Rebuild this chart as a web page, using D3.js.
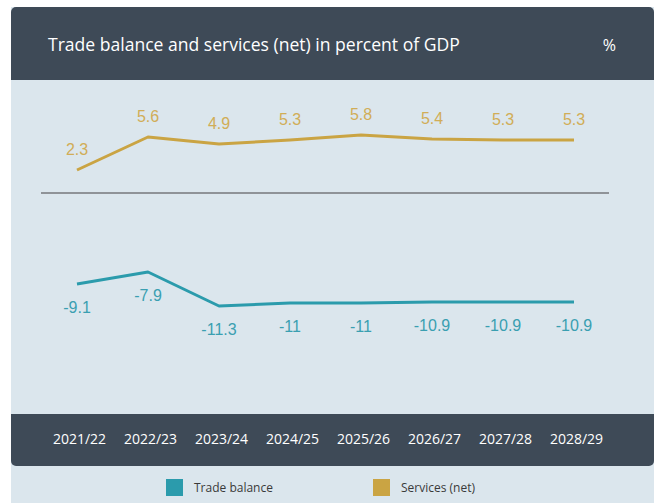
<!DOCTYPE html>
<html>
<head>
<meta charset="utf-8">
<script src="https://cdn.jsdelivr.net/npm/d3@7"></script>
<style>
  html, body { margin: 0; padding: 0; background: #ffffff; }
  svg { display: block; }
</style>
</head>
<body>
<svg id="chart" width="657" height="503"></svg>
<script>
// Fiscal years on the x axis
const years = ["2021/22", "2022/23", "2023/24", "2024/25", "2025/26", "2026/27", "2027/28", "2028/29"];
// Net services, percent of GDP
const servicesNet = [2.3, 5.6, 4.9, 5.3, 5.8, 5.4, 5.3, 5.3];
// Trade balance, percent of GDP
const tradeBalance = [-9.1, -7.9, -11.3, -11, -11, -10.9, -10.9, -10.9];
const seriesNames = ["Trade balance", "Services (net)"];

const title = "Trade balance and services (net) in percent of GDP";
const unit = "%";

const colors = { trade: "#2b9bac", services: "#caa443" };
const labelColors = { trade: "#3a9fb1", services: "#d1ad57" };
const dark = "#3e4a57";
const light = "#dbe6ed";

const svg = d3.select("#chart");

// Card background
const card = { x: 11, y: 7, w: 643, h: 496 };
svg.append("rect").attr("x", card.x).attr("y", card.y)
  .attr("width", card.w).attr("height", card.h).attr("fill", light);

// Header and footer bands with rounded outer corners
function roundedBand(x, y, w, h, r, top) {
  const p = d3.path();
  if (top) {
    p.moveTo(x, y + h);
    p.lineTo(x, y + r);
    p.arcTo(x, y, x + r, y, r);
    p.lineTo(x + w - r, y);
    p.arcTo(x + w, y, x + w, y + r, r);
    p.lineTo(x + w, y + h);
  } else {
    p.moveTo(x, y);
    p.lineTo(x + w, y);
    p.lineTo(x + w, y + h - r);
    p.arcTo(x + w, y + h, x + w - r, y + h, r);
    p.lineTo(x + r, y + h);
    p.arcTo(x, y + h, x, y + h - r, r);
  }
  p.closePath();
  return p.toString();
}
svg.append("path").attr("d", roundedBand(card.x, card.y, card.w, 73, 5, true)).attr("fill", dark);
svg.append("path").attr("d", roundedBand(card.x, 414, card.w, 52, 5, false)).attr("fill", dark);

svg.append("text").attr("x", 48).attr("y", 51)
  .attr("fill", "#ffffff").attr("font-family", "Open Sans").attr("font-size", 16)
  .text(title)
  .each(function () {
    // keep the title to the header's text column
    const w = this.getComputedTextLength();
    const target = 412;
    d3.select(this).attr("font-size", 16 * target / w);
  });
svg.append("text").attr("x", 616).attr("y", 51).attr("text-anchor", "end")
  .attr("fill", "#ffffff").attr("font-family", "Open Sans").attr("font-size", 16)
  .text(unit);

// Scales
const x = d3.scalePoint().domain(years).range([77, 574]);
const y = d3.scaleLinear().domain([-10, 10]).range([293, 93]);

// Zero line
svg.append("line").attr("x1", 41).attr("x2", 609)
  .attr("y1", y(0)).attr("y2", y(0))
  .attr("stroke", "#8f9398").attr("stroke-width", 2);

const line = d3.line().x(d => x(d.year)).y(d => y(d.value));

function drawSeries(values, color, labelColor, dy) {
  const data = years.map((yr, i) => ({ year: yr, value: values[i] }));
  svg.append("path").datum(data).attr("d", line)
    .attr("fill", "none").attr("stroke", color).attr("stroke-width", 3)
    .attr("stroke-linejoin", "round");
  svg.append("g").selectAll("text").data(data).join("text")
    .attr("x", d => x(d.year))
    .attr("y", d => y(d.value) + dy)
    .attr("text-anchor", "middle")
    .attr("fill", labelColor)
    .attr("font-family", "Liberation Sans, Arial, sans-serif")
    .attr("font-size", 16)
    .text(d => String(d.value));
}
drawSeries(servicesNet, colors.services, labelColors.services, -15);
drawSeries(tradeBalance, colors.trade, labelColors.trade, 29);

// X axis labels in the bottom band
const xAxis = d3.axisBottom(x).tickSize(0).tickPadding(0);
const gx = svg.append("g").attr("transform", "translate(2,434)").call(xAxis);
gx.select(".domain").remove();
gx.selectAll("text")
  .attr("fill", "#ffffff")
  .attr("font-family", "Open Sans")
  .attr("font-size", 14)
  .attr("dy", "0.71em");

// Legend
const legend = [
  { name: seriesNames[0], color: colors.trade, x: 166 },
  { name: seriesNames[1], color: colors.services, x: 373 }
];
const lg = svg.append("g").selectAll("g").data(legend).join("g")
  .attr("transform", d => `translate(${d.x},479)`);
lg.append("rect").attr("width", 17).attr("height", 17).attr("fill", d => d.color);
lg.append("text").attr("x", 28).attr("y", 13)
  .attr("fill", "#3a3a3a").attr("font-family", "Open Sans").attr("font-size", 12)
  .text(d => d.name);
</script>
</body>
</html>
